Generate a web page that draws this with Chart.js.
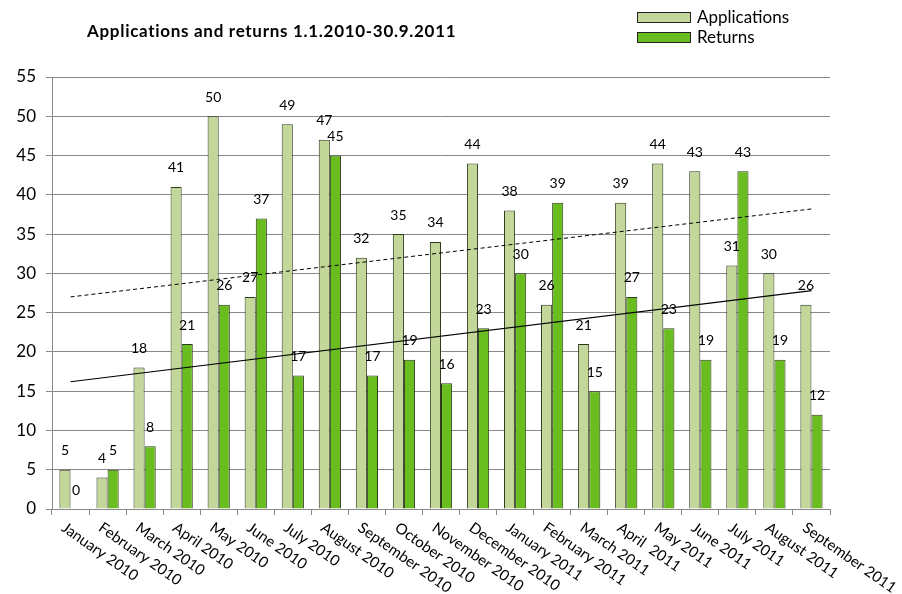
<!DOCTYPE html>
<html>
<head>
<meta charset="utf-8">
<script src="https://cdn.jsdelivr.net/npm/chart.js@4.4.1/dist/chart.umd.min.js"></script>
<style>
  html, body { margin: 0; padding: 0; background: #fff; }
  #wrap { width: 902px; height: 594px; }
</style>
</head>
<body>
<div id="wrap"><canvas id="grafico" width="902" height="594"></canvas></div>
<script>
// datos
const meses = ['January 2010', 'February 2010', 'March 2010', 'April 2010', 'May 2010', 'June 2010',
  'July 2010', 'August 2010', 'September 2010', 'October 2010', 'November 2010', 'December 2010',
  'January 2011', 'February 2011', 'March 2011', 'April  2011', 'May 2011', 'June 2011',
  'July 2011', 'August 2011', 'September 2011'];
const solicitudes = [5, 4, 18, 41, 50, 27, 49, 47, 32, 35, 34, 44, 38, 26, 21, 39, 44, 43, 31, 30, 26];
const devoluciones = [0, 5, 8, 21, 26, 37, 17, 45, 17, 19, 16, 23, 30, 39, 15, 27, 23, 19, 43, 19, 12];
// extremos de las lineas de tendencia
const tendenciaSolicitudes = [27.0, 38.2];
const tendenciaDevoluciones = [16.2, 27.8];
const ticksY = [0, 5, 10, 15, 20, 25, 30, 35, 40, 45, 50, 55];

const fuente = 'Lato, "Open Sans", sans-serif';

function lineaTendencia(extremos) {
  const d = meses.map(() => null);
  d[0] = extremos[0];
  d[meses.length - 1] = extremos[1];
  return d;
}

// etiquetas de valor, eje x rotado, titulo y leyenda
const dibujos = {
  id: 'dibujos',
  afterDraw(chart) {
    const ctx = chart.ctx;
    ctx.save();
    ctx.fillStyle = '#000';

    // valores encima de las barras
    ctx.font = '14px ' + fuente;
    ctx.textAlign = 'center';
    ctx.textBaseline = 'middle';
    [0, 1].forEach(i => {
      const meta = chart.getDatasetMeta(i);
      meta.data.forEach((bar, j) => {
        ctx.fillText(String(chart.data.datasets[i].data[j]), bar.x, bar.y - 19);
      });
    });

    // etiquetas del eje x
    const xs = chart.scales.x;
    ctx.font = '15px ' + fuente;
    ctx.textAlign = 'left';
    ctx.textBaseline = 'top';
    meses.forEach((m, j) => {
      const px = xs.getPixelForValue(j);
      ctx.save();
      ctx.translate(px - 3, chart.chartArea.bottom + 11);
      ctx.rotate(35 * Math.PI / 180);
      ctx.fillText(m, 0, 0);
      ctx.restore();
    });

    // titulo
    ctx.font = 'bold 17px ' + fuente;
    ctx.letterSpacing = '0.7px';
    ctx.textBaseline = 'middle';
    ctx.fillText('Applications and returns 1.1.2010-30.9.2011', 87, 32);
    ctx.letterSpacing = '0px';

    // leyenda
    ctx.font = '17px ' + fuente;
    [0, 1].forEach(i => {
      const ds = chart.data.datasets[i];
      const y = 12 + i * 20;
      ctx.fillStyle = ds.backgroundColor;
      ctx.fillRect(637.5, y + 0.5, 53, 10);
      ctx.strokeStyle = '#222';
      ctx.lineWidth = 1;
      ctx.strokeRect(637.5, y + 0.5, 53, 10);
      ctx.fillStyle = '#000';
      ctx.fillText(ds.label, 697, y + 6);
    });
    ctx.restore();
  }
};

const ctx = document.getElementById('grafico').getContext('2d');
new Chart(ctx, {
  type: 'bar',
  data: {
    labels: meses,
    datasets: [
      {
        label: 'Applications',
        data: solicitudes,
        backgroundColor: '#c4d79b',
        borderColor: '#2e3a1c',
        borderWidth: 1,
        categoryPercentage: 0.6,
        barPercentage: 1.0,
        order: 2
      },
      {
        label: 'Returns',
        data: devoluciones,
        backgroundColor: '#69bd1e',
        borderColor: '#2e3a1c',
        borderWidth: 1,
        categoryPercentage: 0.6,
        barPercentage: 1.0,
        order: 2
      },
      {
        type: 'line',
        label: 'trend applications',
        data: lineaTendencia(tendenciaSolicitudes),
        borderColor: '#000',
        borderWidth: 1,
        borderDash: [4, 3],
        pointRadius: 0,
        spanGaps: true,
        order: 0
      },
      {
        type: 'line',
        label: 'trend returns',
        data: lineaTendencia(tendenciaDevoluciones),
        borderColor: '#000',
        borderWidth: 1.2,
        pointRadius: 0,
        spanGaps: true,
        order: 0
      }
    ]
  },
  options: {
    responsive: false,
    animation: false,
    layout: { padding: { top: 77, right: 72, left: 0, bottom: 0 } },
    plugins: {
      legend: { display: false },
      tooltip: { enabled: false },
      title: { display: false }
    },
    scales: {
      x: {
        ticks: { display: false },
        grid: {
          offset: true,
          drawOnChartArea: false,
          drawTicks: true,
          tickLength: 6,
          color: '#888'
        },
        border: { color: '#888', width: 1 },
        afterFit(scale) { scale.height = 85; }
      },
      y: {
        min: 0,
        max: 55,
        afterBuildTicks(scale) { scale.ticks = ticksY.map(v => ({ value: v })); },
        ticks: {
          font: { family: fuente, size: 17 },
          color: '#000',
          padding: 10
        },
        grid: { color: '#888', tickLength: 6, lineWidth: 1 },
        border: { color: '#888', width: 1 },
        afterFit(scale) { scale.width = 52; }
      }
    }
  },
  plugins: [dibujos]
});
</script>
</body>
</html>
